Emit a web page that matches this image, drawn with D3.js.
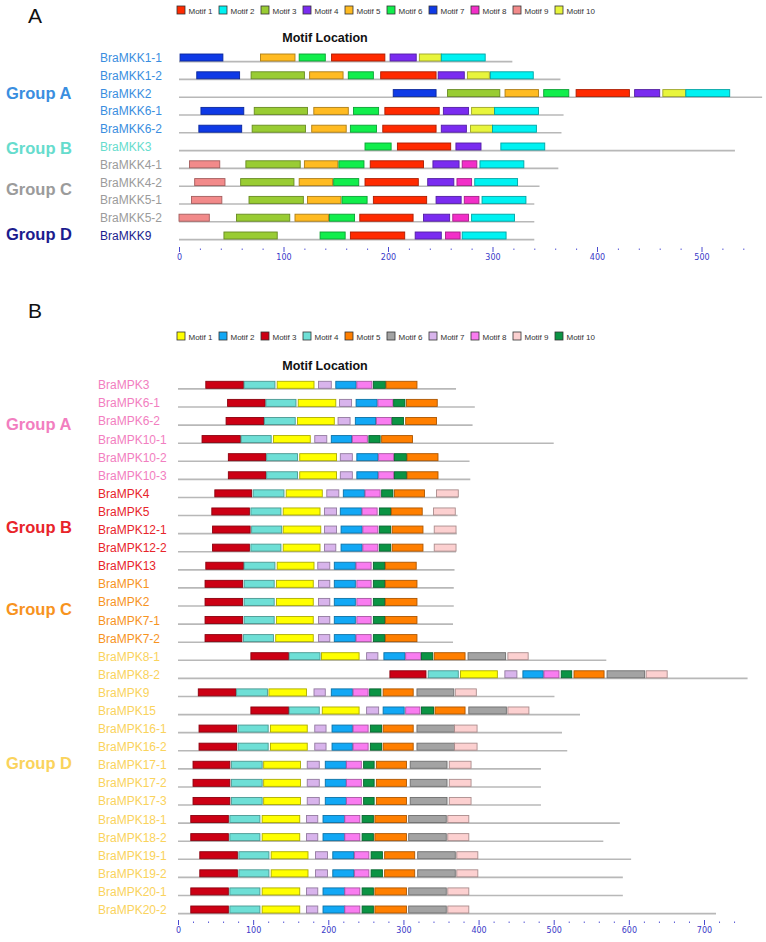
<!DOCTYPE html>
<html><head><meta charset="utf-8">
<script src="https://cdn.jsdelivr.net/npm/d3@7/dist/d3.min.js"></script>
<style>
body{margin:0;background:#fff}
svg{display:block;font-family:"Liberation Sans",Arial,Helvetica,sans-serif}
</style>
</head><body>
<svg id="chart" width="766" height="942"></svg>
<script>
// ---------------- DATA ----------------
const motifLabels = ["Motif 1","Motif 2","Motif 3","Motif 4","Motif 5","Motif 6","Motif 7","Motif 8","Motif 9","Motif 10"];

// Panel A (MKK)
const mkkColors = ["#ff2a00","#00f2f2","#99cc33","#7a2cf0","#ffbb22","#11ee4c","#0f3ae6","#f22ec8","#f28a8a","#e8f53c"];
const mkkGroups = ["Group A","Group B","Group C","Group D"];
const mkkGroupColors = ["#3a8ee0","#66dccd","#9b9b9b","#1c1c8e"];
const mkkNames = ["BraMKK1-1","BraMKK1-2","BraMKK2","BraMKK6-1","BraMKK6-2","BraMKK3","BraMKK4-1","BraMKK4-2","BraMKK5-1","BraMKK5-2","BraMKK9"];
const mkkGroupOf = [0,0,0,0,0,1,2,2,2,2,3];
const mkkLengths = [319,365,558,368,366,532,363,345,340,340,340];
// [motif number, start, end]
const mkkMotifs = [
  [[7,1,42],[5,78,111],[6,115,140],[1,146,197],[4,202,227],[10,230,251],[2,251,293]],
  [[7,17,58],[3,69,120],[5,125,157],[6,162,186],[1,193,246],[4,248,273],[10,276,297],[2,298,339]],
  [[7,205,246],[3,257,307],[5,312,344],[6,349,373],[1,380,431],[4,436,460],[10,463,485],[2,485,527]],
  [[7,21,62],[3,72,123],[5,129,162],[6,167,191],[1,197,249],[4,253,277],[10,280,302],[2,302,344]],
  [[7,19,60],[3,70,121],[5,127,160],[6,164,189],[1,195,246],[4,251,275],[10,279,300],[2,300,342]],
  [[6,178,203],[1,209,260],[4,265,289],[2,308,350]],
  [[9,10,39],[3,64,116],[5,120,152],[6,153,177],[1,183,234],[4,243,268],[8,271,285],[2,288,330]],
  [[9,15,44],[3,59,110],[5,115,147],[6,148,172],[1,178,229],[4,238,263],[8,266,280],[2,283,324]],
  [[9,12,41],[3,67,119],[5,123,155],[6,156,180],[1,186,237],[4,246,270],[8,273,287],[2,290,332]],
  [[9,0,29],[3,55,106],[5,111,143],[6,144,168],[1,173,224],[4,234,259],[8,262,277],[2,280,321]],
  [[3,43,94],[6,135,159],[1,164,216],[4,226,251],[8,255,269],[2,271,313]]
];
const mkkTicks = [0,100,200,300,400,500];

// Panel B (MPK)
const mpkColors = ["#ffff00","#12a8f5","#cc0014","#6edfd6","#ff7f00","#a3a3a3","#d8b4ec","#f97cf0","#fcd0d0","#0b9444"];
const mpkGroups = ["Group A","Group B","Group C","Group D"];
const mpkGroupColors = ["#f27ec0","#e8242a","#f7931e","#fad35c"];
const mpkNames = ["BraMPK3","BraMPK6-1","BraMPK6-2","BraMPK10-1","BraMPK10-2","BraMPK10-3",
  "BraMPK4","BraMPK5","BraMPK12-1","BraMPK12-2","BraMPK13",
  "BraMPK1","BraMPK2","BraMPK7-1","BraMPK7-2",
  "BraMPK8-1","BraMPK8-2","BraMPK9","BraMPK15","BraMPK16-1","BraMPK16-2","BraMPK17-1","BraMPK17-2","BraMPK17-3",
  "BraMPK18-1","BraMPK18-2","BraMPK19-1","BraMPK19-2","BraMPK20-1","BraMPK20-2"];
const mpkGroupOf = [0,0,0,0,0,0,1,1,1,1,1,2,2,2,2,3,3,3,3,3,3,3,3,3,3,3,3,3,3,3];
const mpkLengths = [370,395,392,500,388,389,373,372,371,370,368,367,367,366,366,570,758,501,535,511,518,483,483,483,588,566,603,592,592,716];
const mpkMotifs = [
  [[3,37,87],[4,88,129],[1,132,181],[7,187,204],[2,210,237],[8,238,258],[10,260,276],[5,277,318]],
  [[3,66,116],[4,117,157],[1,160,210],[7,215,231],[2,237,265],[8,266,286],[10,287,302],[5,304,345]],
  [[3,64,114],[4,115,156],[1,159,208],[7,213,229],[2,236,263],[8,264,284],[10,285,300],[5,303,344]],
  [[3,32,83],[4,84,124],[1,127,176],[7,182,198],[2,204,231],[8,232,252],[10,254,269],[5,271,312]],
  [[3,67,117],[4,118,159],[1,162,211],[7,216,232],[2,238,266],[8,267,287],[10,288,304],[5,305,346]],
  [[3,67,117],[4,118,159],[1,162,211],[7,216,232],[2,238,266],[8,267,287],[10,288,304],[5,305,346]],
  [[3,49,98],[4,100,141],[1,144,192],[7,198,214],[2,220,248],[8,249,269],[10,271,286],[5,288,328],[9,344,373]],
  [[3,45,95],[4,97,137],[1,140,189],[7,195,211],[2,216,244],[8,245,265],[10,268,283],[5,284,325],[9,340,369]],
  [[3,46,96],[4,98,138],[1,140,190],[7,195,211],[2,217,245],[8,246,266],[10,268,283],[5,285,326],[9,341,370]],
  [[3,46,95],[4,97,137],[1,140,189],[7,195,210],[2,217,245],[8,246,266],[10,268,283],[5,285,326],[9,341,370]],
  [[3,37,87],[4,88,129],[1,132,181],[7,186,202],[2,208,236],[8,237,257],[10,260,275],[5,276,317]],
  [[3,36,86],[4,88,128],[1,131,180],[7,187,202],[2,208,236],[8,238,257],[10,260,275],[5,276,318]],
  [[3,36,86],[4,88,128],[1,131,180],[7,187,202],[2,208,236],[8,238,257],[10,260,275],[5,276,318]],
  [[3,36,86],[4,88,128],[1,131,180],[7,187,202],[2,208,236],[8,238,257],[10,260,275],[5,276,318]],
  [[3,36,85],[4,87,127],[1,130,180],[7,187,202],[2,208,236],[8,237,257],[10,260,275],[5,276,318]],
  [[3,97,147],[4,148,189],[1,191,241],[7,251,266],[2,274,302],[8,303,323],[10,324,339],[5,341,382],[6,386,436],[9,439,466]],
  [[3,282,330],[4,333,373],[1,376,425],[7,435,451],[2,459,486],[8,487,507],[10,510,524],[5,527,567],[6,571,621],[9,623,651]],
  [[3,27,77],[4,78,119],[1,121,171],[7,181,196],[2,204,232],[8,233,253],[10,255,270],[5,273,313],[6,318,367],[9,369,397]],
  [[3,97,147],[4,148,188],[1,192,241],[7,251,267],[2,273,301],[8,303,322],[10,324,340],[5,342,382],[6,387,437],[9,439,467]],
  [[3,28,78],[4,80,120],[1,123,172],[7,182,197],[2,205,232],[8,233,253],[10,256,271],[5,273,313],[6,318,368],[9,368,398]],
  [[3,28,78],[4,80,120],[1,123,172],[7,182,197],[2,205,232],[8,233,253],[10,256,271],[5,273,313],[6,318,368],[9,368,398]],
  [[3,20,69],[4,71,112],[1,114,163],[7,172,188],[2,196,224],[8,224,244],[10,247,261],[5,264,304],[6,309,358],[9,361,390]],
  [[3,20,69],[4,71,112],[1,114,163],[7,172,188],[2,196,224],[8,224,244],[10,247,261],[5,264,304],[6,309,358],[9,361,390]],
  [[3,20,69],[4,71,112],[1,114,163],[7,172,188],[2,196,224],[8,224,244],[10,247,261],[5,264,304],[6,309,358],[9,361,390]],
  [[3,17,67],[4,69,109],[1,112,162],[7,171,186],[2,193,222],[8,222,242],[10,245,260],[5,262,304],[6,307,357],[9,359,387]],
  [[3,17,67],[4,69,109],[1,112,162],[7,171,186],[2,193,222],[8,222,242],[10,245,260],[5,262,304],[6,307,357],[9,359,387]],
  [[3,29,79],[4,81,121],[1,124,173],[7,183,199],[2,206,234],[8,235,254],[10,257,272],[5,275,315],[6,319,369],[9,371,399]],
  [[3,29,79],[4,81,121],[1,124,173],[7,183,199],[2,206,234],[8,235,254],[10,257,272],[5,275,315],[6,319,369],[9,371,399]],
  [[3,17,67],[4,69,109],[1,112,162],[7,171,186],[2,193,222],[8,222,242],[10,245,260],[5,262,304],[6,307,357],[9,359,387]],
  [[3,17,67],[4,69,109],[1,112,162],[7,171,186],[2,193,222],[8,222,242],[10,245,260],[5,262,304],[6,307,357],[9,359,387]]
];
const mpkTicks = [0,100,200,300,400,500,600,700];

// ---------------- DRAW ----------------
const svg = d3.select("#chart");

function panel(cfg){
  const g = svg.append("g");
  const x = d3.scaleLinear().domain([0, cfg.unit]).range([cfg.x0, cfg.x1]);
  const y = d3.scalePoint().domain(cfg.names).range([cfg.yTop, cfg.yBottom]);

  g.append("text").attr("x", 28).attr("y", cfg.letterY).attr("font-size", 21)
    .attr("fill", "#111").text(cfg.letter);

  const leg = g.selectAll("g.leg").data(motifLabels).join("g")
    .attr("transform", (d,i) => `translate(${177 + i*42},${cfg.legendY})`);
  leg.append("rect").attr("width", 8).attr("height", 8)
    .attr("fill", (d,i) => cfg.colors[i]).attr("stroke", "#333").attr("stroke-width", 0.8);
  leg.append("text").attr("x", 11.5).attr("y", 7.5).attr("font-size", 8).attr("fill", "#333").text(d => d);

  g.append("text").attr("x", 325).attr("y", cfg.titleY).attr("text-anchor", "middle")
    .attr("font-size", 12.5).attr("font-weight", "bold").attr("fill", "#111").text("Motif Location");

  g.selectAll("text.grp").data(cfg.groups).join("text")
    .attr("x", 6).attr("y", (d,i) => cfg.groupY[i])
    .attr("font-size", 16.5).attr("font-weight", "bold")
    .attr("fill", (d,i) => cfg.groupColors[i]).text(d => d);

  g.selectAll("text.row").data(cfg.names).join("text")
    .attr("x", cfg.labelX).attr("y", d => y(d) + 1)
    .attr("font-size", 12).attr("fill", (d,i) => cfg.groupColors[cfg.groupOf[i]]).text(d => d);

  g.selectAll("line.bb").data(cfg.names).join("line")
    .attr("x1", x(0)).attr("x2", (d,i) => x(cfg.lengths[i]))
    .attr("y1", d => y(d) + 0.6).attr("y2", d => y(d) + 0.6)
    .attr("stroke", "#b8b8b8").attr("stroke-width", 1.6);

  cfg.names.forEach((name, i) => {
    g.selectAll(null).data(cfg.motifs[i]).join("rect")
      .attr("x", d => x(d[1])).attr("width", d => x(d[2]) - x(d[1]))
      .attr("y", y(name) - 7).attr("height", 7)
      .attr("fill", d => cfg.colors[d[0]-1])
      .attr("stroke", d => d3.color(cfg.colors[d[0]-1]).darker(1.1))
      .attr("stroke-width", 0.9);
  });

  const ax = g.append("g").attr("transform", `translate(0,${cfg.axisY})`)
    .call(d3.axisBottom(x).tickValues(cfg.ticks).tickSize(5).tickPadding(2).tickFormat(d3.format("d")));
  ax.select(".domain").remove();
  ax.selectAll("line").attr("stroke", "#4a4ad0").attr("stroke-width", 1);
  ax.selectAll("text").attr("fill", "#3838c8").attr("font-size", 8)
    .attr("font-family", '"DejaVu Sans",Verdana,sans-serif');
  const minor = d3.range(0, cfg.tickMax + 1, 20).filter(v => v % 100 !== 0);
  const mx = g.append("g").attr("transform", `translate(0,${cfg.axisY + 1.5})`)
    .call(d3.axisBottom(x).tickValues(minor).tickSize(1.5).tickFormat(""));
  mx.select(".domain").remove();
  mx.selectAll("line").attr("stroke", "#5a5ad8").attr("stroke-width", 1);
}

panel({
  letter: "A", letterY: 23, legendY: 6, titleY: 42,
  unit: 500, x0: 179, x1: 701.5, tickMax: 540, ticks: mkkTicks,
  names: mkkNames, yTop: 61, yBottom: 239, labelX: 100,
  groups: mkkGroups, groupColors: mkkGroupColors, groupY: [99, 154, 195, 240],
  groupOf: mkkGroupOf, lengths: mkkLengths, motifs: mkkMotifs, colors: mkkColors,
  axisY: 247
});

panel({
  letter: "B", letterY: 318, legendY: 332, titleY: 370,
  unit: 700, x0: 178, x1: 704, tickMax: 740, ticks: mpkTicks,
  names: mpkNames, yTop: 388.3, yBottom: 913, labelX: 98,
  groups: mpkGroups, groupColors: mpkGroupColors, groupY: [430, 533, 615, 769],
  groupOf: mpkGroupOf, lengths: mpkLengths, motifs: mpkMotifs, colors: mpkColors,
  axisY: 920
});
</script>
</body></html>
